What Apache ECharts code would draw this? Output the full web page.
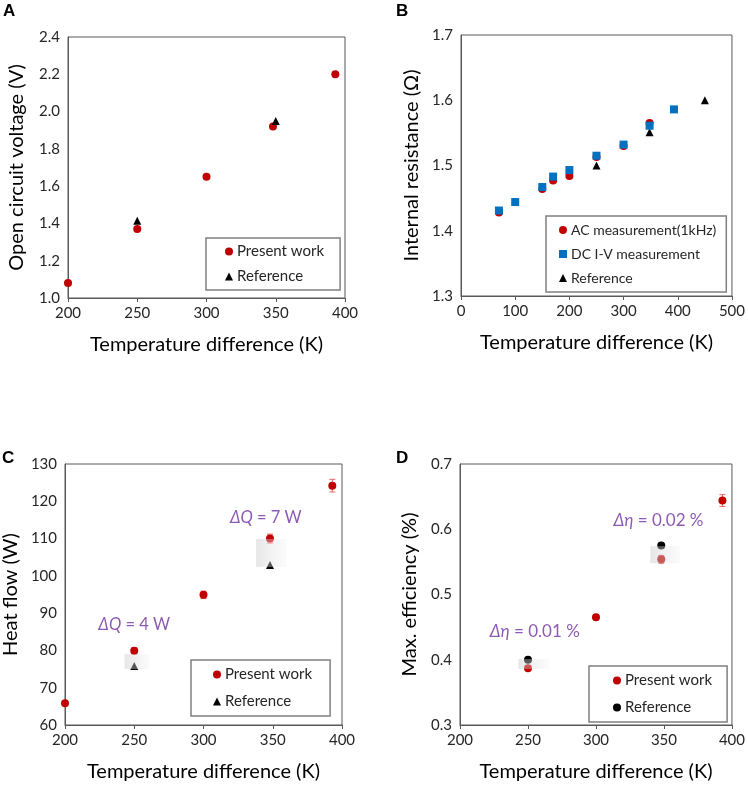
<!DOCTYPE html>
<html>
<head>
<meta charset="utf-8">
<script src="https://cdn.jsdelivr.net/npm/echarts@6/dist/echarts.min.js"></script>
<style>
  html, body { margin: 0; padding: 0; background: #fff; }
  #chart { width: 748px; height: 785px; }
</style>
</head>
<body>
<div id="chart"></div>
<script>
// Panel A - open circuit voltage
const tempA = [200, 250, 300, 348, 393];
const vocPresent = [1.08, 1.37, 1.65, 1.92, 2.20];
const tempRefA = [250, 350];
const vocRef = [1.415, 1.95];

// Panel B - internal resistance
const tempAC = [70, 150, 170, 200, 250, 300, 348];
const resAC = [1.428, 1.464, 1.477, 1.484, 1.513, 1.530, 1.565];
const tempDC = [70, 100, 150, 170, 200, 250, 300, 348, 393];
const resDC = [1.431, 1.444, 1.467, 1.483, 1.493, 1.515, 1.532, 1.561, 1.586];
const tempRefB = [250, 348, 450];
const resRef = [1.50, 1.551, 1.60];

// Panel C - heat flow
const tempC = [200, 250, 300, 348, 393];
const heatPresent = [65.8, 79.9, 94.9, 110.0, 124.2];
const heatErr = [0.5, 0.8, 1.0, 1.2, 1.7];
const tempRefC = [250, 348];
const heatRef = [75.8, 102.9];
// shaded boxes [x0, x1, y0, y1]
const heatBoxes = [[243, 261, 75.0, 79.0], [338, 360, 102.4, 109.9]];
const heatNotes = [[250, 86.8, "4 W"], [345, 115.5, "7 W"]];

// Panel D - max efficiency
const tempD = [250, 300, 348, 393];
const effPresent = [0.387, 0.465, 0.554, 0.644];
const effErr = [0.003, 0.004, 0.006, 0.009];
const tempRefD = [250, 348];
const effRef = [0.400, 0.575];
const effBoxes = [[243, 266, 0.386, 0.401], [340, 362, 0.548, 0.574]];
const effNotes = [[255, 0.444, "0.01 %"], [346, 0.613, "0.02 %"]];

const RED = "#C00000";
const BLUE = "#0070C0";
const PURPLE = "#7030A0";
const FONT = "Lato";

const zip = (xs, ys) => xs.map((x, i) => [x, ys[i]]);

const chart = echarts.init(document.getElementById("chart"));

const grids = [
  { left: 68, top: 37, width: 277, height: 261 },
  { left: 461, top: 35, width: 272, height: 261 },
  { left: 65, top: 464, width: 277, height: 261 },
  { left: 460, top: 464, width: 275, height: 261 },
].map((g) => ({ ...g, show: true, borderColor: "#595959", borderWidth: 1, backgroundColor: "transparent" }));

function xAx(idx, min, max, interval) {
  return {
    type: "value",
    gridIndex: idx,
    min, max, interval,
    name: "Temperature difference (K)",
    nameLocation: "middle",
    nameGap: 37,
    nameTextStyle: { fontFamily: FONT, fontSize: 20, color: "#000" },
    axisLine: { show: true, lineStyle: { color: "#595959" } },
    axisTick: { show: true, inside: false, length: 4, lineStyle: { color: "#595959" } },
    axisLabel: { fontFamily: FONT, fontSize: 15, color: "#262626", margin: 8 },
    splitLine: { show: false },
  };
}
function yAx(idx, min, max, interval, name, gap, digits) {
  return {
    type: "value",
    gridIndex: idx,
    min, max, interval,
    name,
    nameLocation: "middle",
    nameGap: gap,
    nameRotate: 90,
    nameTextStyle: { fontFamily: FONT, fontSize: 20, color: "#000" },
    axisLine: { show: true, lineStyle: { color: "#595959" } },
    axisTick: { show: false },
    axisLabel: {
      fontFamily: FONT, fontSize: 15, color: "#262626", margin: 8,
      formatter: (v) => (digits ? v.toFixed(digits) : String(v)),
    },
    splitLine: { show: false },
  };
}

function scatter(name, idx, data, symbol, color, size, z) {
  return {
    name, type: "scatter", xAxisIndex: idx, yAxisIndex: idx,
    data, symbol, symbolSize: size || 8,
    itemStyle: { color, opacity: 1 },
    z: z || 3,
  };
}

function errorBars(idx, xs, ys, errs) {
  return {
    type: "custom", xAxisIndex: idx, yAxisIndex: idx,
    data: xs.map((x, i) => [x, ys[i] - errs[i], ys[i] + errs[i]]),
    z: 2,
    renderItem: (params, api) => {
      const lo = api.coord([api.value(0), api.value(1)]);
      const hi = api.coord([api.value(0), api.value(2)]);
      const c = 3;
      const st = { stroke: "#E06666", lineWidth: 1 };
      return {
        type: "group",
        children: [
          { type: "line", shape: { x1: lo[0], y1: lo[1], x2: hi[0], y2: hi[1] }, style: st },
          { type: "line", shape: { x1: lo[0] - c, y1: lo[1], x2: lo[0] + c, y2: lo[1] }, style: st },
          { type: "line", shape: { x1: hi[0] - c, y1: hi[1], x2: hi[0] + c, y2: hi[1] }, style: st },
        ],
      };
    },
  };
}

function shadeBoxes(idx, boxes) {
  return {
    type: "custom", xAxisIndex: idx, yAxisIndex: idx,
    data: boxes,
    z: 5,
    renderItem: (params, api) => {
      const p0 = api.coord([api.value(0), api.value(3)]);
      const p1 = api.coord([api.value(1), api.value(2)]);
      return {
        type: "rect",
        shape: { x: p0[0], y: p0[1], width: p1[0] - p0[0], height: p1[1] - p0[1] },
        style: {
          fill: new echarts.graphic.LinearGradient(0, 0, 1, 0, [
            { offset: 0, color: "rgba(200,200,200,0.45)" },
            { offset: 1, color: "rgba(245,245,245,0.35)" },
          ]),
        },
      };
    },
  };
}

function notes(idx, items, sym, size) {
  return {
    type: "scatter", xAxisIndex: idx, yAxisIndex: idx,
    data: items.map((n) => ({ value: [n[0], n[1]], text: n[2] })),
    symbolSize: 0,
    silent: true,
    z: 6,
    label: {
      show: true,
      position: "inside",
      formatter: (p) => "{i|" + sym + "} = " + p.data.text,
      fontFamily: FONT, fontSize: size, color: PURPLE,
      rich: { i: { fontFamily: FONT, fontSize: size, color: PURPLE, fontStyle: "italic" } },
    },
  };
}

function legendAt(left, top, items, pad, fontSize, gap) {
  return {
    left, top,
    orient: "vertical",
    data: items,
    itemWidth: 8,
    itemHeight: 8,
    itemGap: gap,
    padding: pad,
    borderColor: "#808080",
    borderWidth: 1.5,
    borderRadius: 0,
    backgroundColor: "#fff",
    selectedMode: false,
    textStyle: { fontFamily: FONT, fontSize, color: "#262626", padding: [0, 0, 0, -1] },
  };
}

const panelLabel = (text, x, y) => ({
  type: "text", left: x, top: y,
  style: { text, font: "bold 17px 'Liberation Sans', Arial", fill: "#000" },
});

const option = {
  animation: false,
  backgroundColor: "#fff",
  grid: grids,
  xAxis: [
    xAx(0, 200, 400, 50),
    xAx(1, 0, 500, 100),
    xAx(2, 200, 400, 50),
    xAx(3, 200, 400, 50),
  ],
  yAxis: [
    yAx(0, 1.0, 2.4, 0.2, "Open circuit voltage (V)", 41, 1),
    yAx(1, 1.3, 1.7, 0.1, "Internal resistance (Ω)", 39, 1),
    yAx(2, 60, 130, 10, "Heat flow (W)", 44, 0),
    yAx(3, 0.3, 0.7, 0.1, "Max. efficiency (%)", 40, 1),
  ],
  legend: [
    legendAt(206, 238, [{ name: "Present work", icon: "circle" }, { name: "Reference", icon: "triangle" }], [6, 16, 6, 19], 15, 10),
    legendAt(546, 216, [{ name: "AC measurement(1kHz)", icon: "circle" }, { name: "DC I-V measurement", icon: "rect" }, { name: "Reference", icon: "triangle" }], [7, 10, 7, 13], 14, 10),
    legendAt(191, 660, [{ name: "Present work", icon: "circle" }, { name: "Reference", icon: "triangle" }], [7, 18, 7, 22], 15, 12),
    legendAt(589, 666, [{ name: "Present work", icon: "circle" }, { name: "Reference ", icon: "circle" }], [7, 15, 7, 24], 15, 12),
  ],
  graphic: [
    panelLabel("A", 3, 3),
    panelLabel("B", 396, 3),
    panelLabel("C", 2, 450),
    panelLabel("D", 396, 450),
  ],
  series: [
    scatter("Present work", 0, zip(tempA, vocPresent), "circle", RED, 8),
    scatter("Reference", 0, zip(tempRefA, vocRef), "triangle", "#000", 8),

    scatter("AC measurement(1kHz)", 1, zip(tempAC, resAC), "circle", RED, 8),
    scatter("DC I-V measurement", 1, zip(tempDC, resDC), "rect", BLUE, 8, 4),
    scatter("Reference", 1, zip(tempRefB, resRef), "triangle", "#000", 8),

    errorBars(2, tempC, heatPresent, heatErr),
    scatter("Present work", 2, zip(tempC, heatPresent), "circle", RED, 8),
    scatter("Reference", 2, zip(tempRefC, heatRef), "triangle", "#000", 8),
    shadeBoxes(2, heatBoxes),
    notes(2, heatNotes, "ΔQ", 16.5),

    errorBars(3, tempD, effPresent, effErr),
    scatter("Present work", 3, zip(tempD, effPresent), "circle", RED, 8),
    scatter("Reference ", 3, zip(tempRefD, effRef), "circle", "#000", 8),
    shadeBoxes(3, effBoxes),
    notes(3, effNotes, "Δη", 17),
  ],
};

chart.setOption(option);
</script>
</body>
</html>
